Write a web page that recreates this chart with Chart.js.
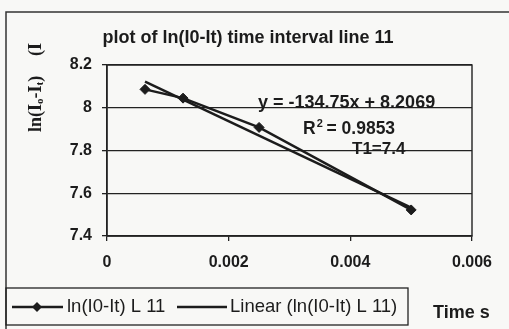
<!DOCTYPE html>
<html>
<head>
<meta charset="utf-8">
<script src="https://cdn.jsdelivr.net/npm/chart.js@4.4.1/dist/chart.umd.min.js"></script>
<style>
  html, body { margin: 0; padding: 0; background: #f8f8f6; }
  #wrap { width: 509px; height: 329px; }
</style>
</head>
<body>
<div id="wrap"><canvas id="chartLn" width="509" height="329"></canvas></div>
<script>
// time interval (s) and ln(I0-It) for line 11
const tiempos = [0.000625, 0.00125, 0.0025, 0.005];
const lnValores = [8.086, 8.045, 7.908, 7.522];

// linear trend as printed on the chart
const pendiente = -134.75;
const intercepto = 8.2069;
const rCuadrado = '0.9853';
const t1Texto = 'T1=7.4';

const xTicks = [0, 0.002, 0.004, 0.006];
const yTicks = [7.4, 7.6, 7.8, 8, 8.2];

const tinta = '#1c1c1c';
const sans = '"Liberation Sans", Arial, sans-serif';
const serif = '"Liberation Serif", "Times New Roman", serif';

let puntos = [];
tiempos.forEach((t, i) => {
    puntos.push({ x: t, y: lnValores[i] });
});

let xMin = Math.min(...tiempos);
let xMax = Math.max(...tiempos);
let tendencia = [
    { x: xMin, y: pendiente * xMin + intercepto },
    { x: xMax, y: pendiente * xMax + intercepto }
];

// fondo, marcos, titulo, etiquetas y leyenda dibujados a mano
const decoracion = {
    id: 'decoracion',
    beforeDraw(chart) {
        const c = chart.ctx;
        c.save();
        c.fillStyle = '#f8f8f6';
        c.fillRect(0, 0, chart.width, chart.height);
        // marco exterior
        c.strokeStyle = '#333';
        c.lineWidth = 1.5;
        c.beginPath();
        c.moveTo(6, chart.height + 2);
        c.lineTo(6, 12);
        c.lineTo(chart.width + 2, 12);
        c.stroke();
        c.restore();
    },
    afterDraw(chart) {
        const c = chart.ctx;
        const a = chart.chartArea;
        c.save();
        // borde del area de trazado
        c.strokeStyle = '#222';
        c.lineWidth = 1.4;
        c.strokeRect(a.left, a.top, a.right - a.left, a.bottom - a.top);

        c.fillStyle = tinta;
        c.textBaseline = 'middle';

        // titulo
        c.font = 'bold 18px ' + sans;
        c.textAlign = 'center';
        c.fillText('plot of ln(I0-It) time interval line 11', 248, 38);

        // ecuacion de la recta
        c.font = 'bold 18px ' + sans;
        c.textAlign = 'left';
        c.fillText('y = ' + pendiente + 'x + ' + intercepto, 258, 103);
        c.font = 'bold 17.5px ' + sans;
        c.fillText('R', 303, 129);
        let wR = c.measureText('R').width;
        c.font = 'bold 11px ' + sans;
        c.fillText('2', 303 + wR + 1, 124);
        c.font = 'bold 17.5px ' + sans;
        c.fillText(' = ' + rCuadrado, 303 + wR + 6, 129);
        c.font = 'bold 17px ' + sans;
        c.fillText(t1Texto, 352, 149);

        // titulo eje x
        c.font = 'bold 18px ' + sans;
        c.fillText('Time s', 433, 313);

        // titulo eje y (rotado)
        c.save();
        c.translate(36, 0);
        c.rotate(-Math.PI / 2);
        c.textAlign = 'left';
        let px = -132;
        const partes = [
            ['ln(I', 18, 0], ['o', 11, 4], ['-I', 18, 0], ['t', 11, 4], [')', 18, 0]
        ];
        partes.forEach(([txt, size, dy]) => {
            c.font = 'bold ' + size + 'px ' + serif;
            c.fillText(txt, px, dy);
            px += c.measureText(txt).width;
        });
        c.font = 'bold 18px ' + serif;
        c.fillText('(I', -56, 0);
        c.restore();

        // leyenda
        c.strokeStyle = '#222';
        c.lineWidth = 1.3;
        c.strokeRect(6, 288, 402, 37);
        const ly = 307;
        c.font = '18.5px ' + sans;
        c.lineWidth = 2.5;
        c.strokeStyle = tinta;
        c.beginPath();
        c.moveTo(12, ly);
        c.lineTo(63, ly);
        c.stroke();
        c.beginPath();
        c.moveTo(37, ly - 5);
        c.lineTo(42, ly);
        c.lineTo(37, ly + 5);
        c.lineTo(32, ly);
        c.closePath();
        c.fill();
        c.fillText(chart.data.datasets[0].label, 67, ly);
        c.beginPath();
        c.moveTo(177, ly);
        c.lineTo(227, ly);
        c.stroke();
        c.fillText(chart.data.datasets[1].label, 230, ly);
        c.restore();
    }
};

const ctx = document.getElementById('chartLn');
const chartLn = new Chart(ctx, {
    type: 'scatter',
    data: {
        datasets: [
            {
                label: 'ln(I0-It) L 11',
                data: puntos,
                showLine: true,
                borderColor: tinta,
                backgroundColor: tinta,
                borderWidth: 2.5,
                pointStyle: 'rectRot',
                pointRadius: 5,
                pointBorderWidth: 1
            },
            {
                label: 'Linear (ln(I0-It) L 11)',
                data: tendencia,
                showLine: true,
                borderColor: tinta,
                borderWidth: 2.5,
                pointRadius: 0
            }
        ]
    },
    plugins: [decoracion],
    options: {
        responsive: false,
        animation: false,
        devicePixelRatio: 1,
        layout: {
            padding: { left: 0, right: 37, top: 65, bottom: 0 }
        },
        scales: {
            x: {
                type: 'linear',
                min: 0,
                max: 0.006,
                afterBuildTicks: (scale) => {
                    scale.ticks = xTicks.map(v => ({ value: v }));
                },
                afterFit: (scale) => { scale.height = 93; },
                ticks: {
                    color: tinta,
                    padding: 12,
                    font: { family: sans, size: 16, weight: 'bold' },
                    callback: (v) => String(Number(v.toFixed(3)))
                },
                grid: {
                    drawOnChartArea: false,
                    drawTicks: true,
                    tickLength: 5,
                    color: '#222',
                    lineWidth: 1.3
                },
                border: { color: '#222', width: 1.4 }
            },
            y: {
                min: 7.4,
                max: 8.2,
                afterBuildTicks: (scale) => {
                    scale.ticks = yTicks.map(v => ({ value: v }));
                },
                afterFit: (scale) => { scale.width = 107; },
                ticks: {
                    color: tinta,
                    padding: 10,
                    font: { family: sans, size: 16, weight: 'bold' },
                    callback: (v) => String(Number(v.toFixed(1)))
                },
                grid: {
                    color: '#222',
                    lineWidth: 1.3,
                    tickLength: 5
                },
                border: { color: '#222', width: 1.4 }
            }
        },
        plugins: {
            legend: { display: false },
            title: { display: false },
            tooltip: { enabled: false }
        }
    }
});
</script>
</body>
</html>
